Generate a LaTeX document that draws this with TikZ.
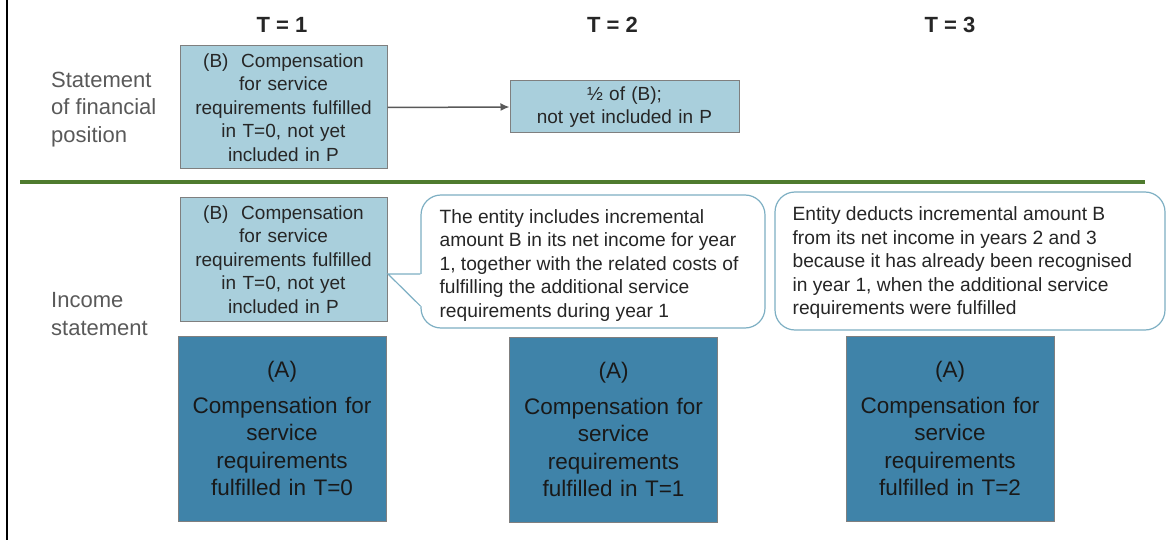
\documentclass[tikz,border=0pt]{standalone}
\usepackage{fontspec}
\setmainfont{Liberation Sans}
\usetikzlibrary{arrows.meta,calc}
\definecolor{boxlight}{HTML}{A9CFDC}
\definecolor{boxdark}{HTML}{3F83A9}
\definecolor{boxedge}{HTML}{7F7F7F}
\definecolor{bubbleedge}{HTML}{7DAFC3}
\definecolor{rulegreen}{HTML}{4F7B2E}
\definecolor{labelgray}{HTML}{595959}
\definecolor{txtdark}{HTML}{262626}
\tikzset{
  bbox/.style={draw=boxedge, fill=boxlight, line width=1pt, minimum width=207pt, minimum height=123pt,
    text width=200pt, align=center, inner sep=0pt, text=txtdark, font=\fontsize{19}{23.5}\selectfont},
  abox/.style={draw=boxedge, fill=boxdark, line width=1pt, minimum width=208pt, minimum height=185pt,
    text width=200pt, align=center, inner sep=0pt, text=black!90, font=\fontsize{22.5}{27.5}\selectfont},
  bubble/.style={draw=bubbleedge, fill=white, line width=1.2pt, rounded corners=20pt, inner sep=0pt},
  bubbletext/.style={align=left, inner sep=0pt, text=txtdark, font=\fontsize{19.2}{23.5}\selectfont},
  rowlabel/.style={anchor=west, align=left, inner sep=0pt, text=labelgray, font=\fontsize{22}{27.5}\selectfont},
  yearlabel/.style={inner sep=0pt, text=txtdark, font=\bfseries\fontsize{22}{26}\selectfont},
}

\begin{document}
\begin{tikzpicture}[x=1pt,y=-1pt]
\useasboundingbox (0,0) rectangle (1175,540);
\draw[black, line width=2pt] (7,0) -- (7,540);

% years
\node[yearlabel] (t1) at (282,25) {T = 1};
\node[yearlabel] (t2) at (612.5,25) {T = 2};
\node[yearlabel] (t3) at (950,25) {T = 3};

% row labels
\node[rowlabel] (sfp) at (51,109.5) {Statement\\of financial\\position};
\node[rowlabel] (inc) at (51,314) {Income\\statement};
\draw[rulegreen, line width=3.5pt] (20,182) -- (1145,182);

% statement of financial position
\node[bbox] (bsfp) at (283.5,107.5) {(B)\ \ Compensation\\for service\\requirements fulfilled\\in T=0, not yet\\included in P};
\node[bbox, minimum width=229pt, minimum height=52pt] (half) at (624.5,107) {½ of (B);\\not yet included in P};
\draw[labelgray, line width=1.5pt, -{Latex[length=9pt,width=8pt]}] (bsfp.east) -- (half.west);

% income statement
\node[bbox] (binc) at (283.5,259.5) {(B)\ \ Compensation\\for service\\requirements fulfilled\\in T=0, not yet\\included in P};
\node[bubble, minimum width=344pt, minimum height=133pt] (note1) at (593,261.5) {};
\node[bubble, minimum width=390pt, minimum height=138pt] (note2) at (970,261) {};
% pointer of the first note
\coordinate (tip) at (388,274);
\coordinate (ptop) at (note1.west |- tip);
\coordinate (pbot) at ($(ptop)+(0,32)$);
\fill[white] (tip) -- (ptop) -- ++(2.5,0) -- ($(pbot)+(2.5,0)$) -- (pbot) -- cycle;
\draw[bubbleedge, line width=1.2pt] (ptop) -- (tip) -- (pbot);
\node[bubbletext, anchor=west] (note1txt) at ($(note1.west)+(19,4)$)
  {The entity includes incremental\\amount B in its net income for year\\1, together with the related costs of\\fulfilling the additional service\\requirements during year 1};
\node[bubbletext, anchor=west] (note2txt) at ($(note2.west)+(18,2)$)
  {Entity deducts incremental amount B\\from its net income in years 2 and 3\\because it has already been recognised\\in year 1, when the additional service\\requirements were fulfilled};

\node[abox] (a1) at (282,428.5) {(A)\\[8pt]Compensation for\\service\\requirements\\fulfilled in T=0};
\node[abox] (a2) at (613.5,429.5) {(A)\\[8pt]Compensation for\\service\\requirements\\fulfilled in T=1};
\node[abox] (a3) at (950,428.5) {(A)\\[8pt]Compensation for\\service\\requirements\\fulfilled in T=2};
\end{tikzpicture}
\end{document}
